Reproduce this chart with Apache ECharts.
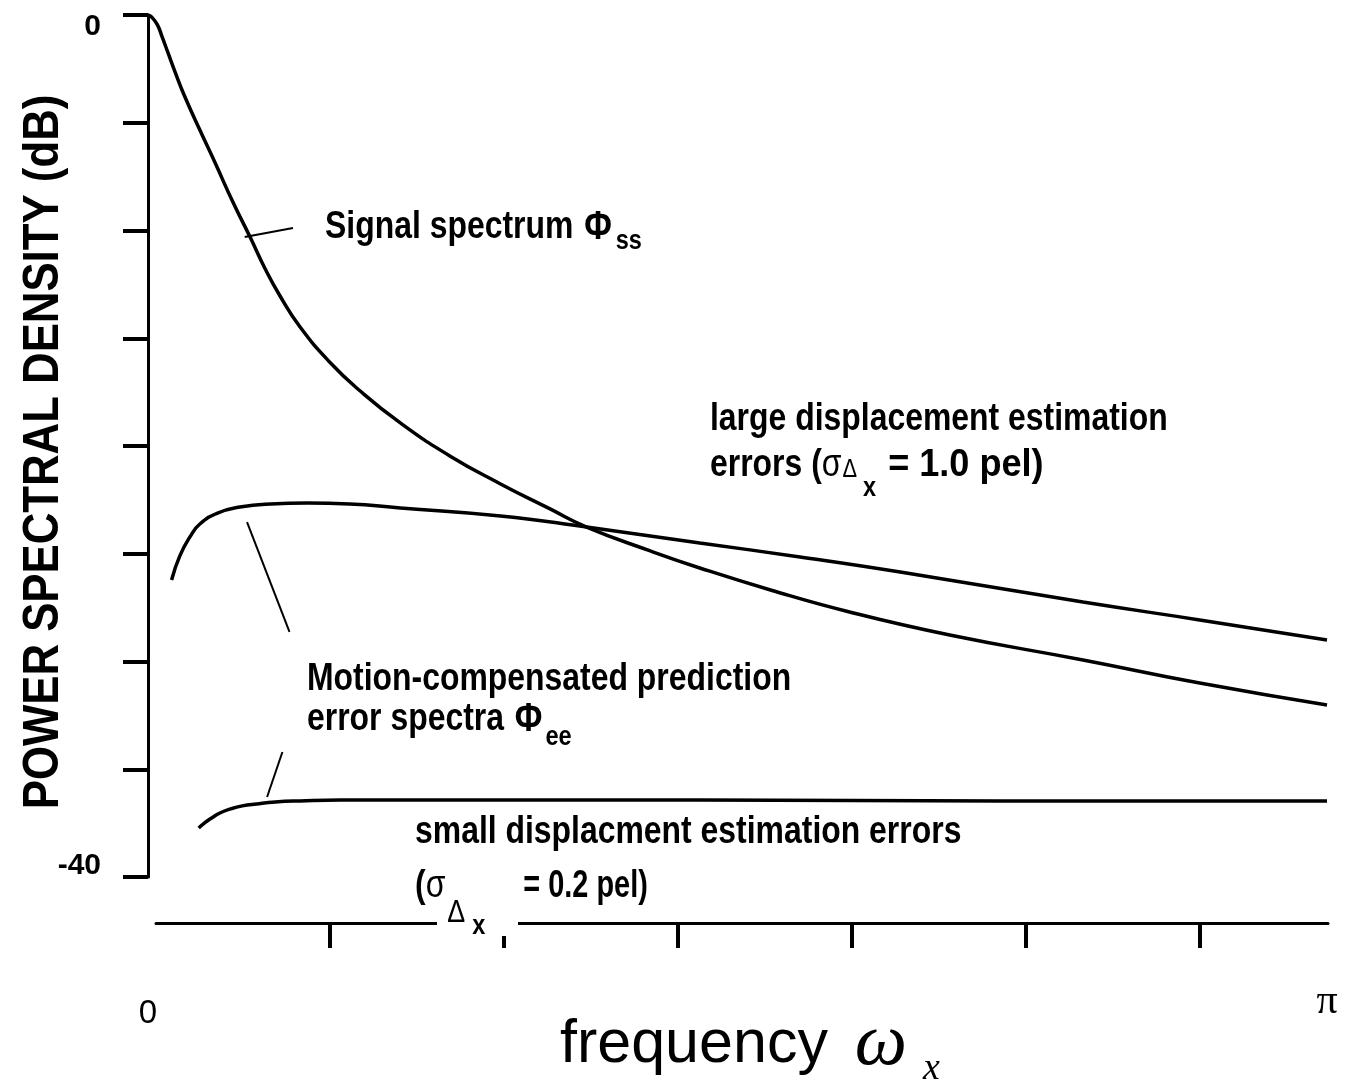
<!DOCTYPE html>
<html>
<head>
<meta charset="utf-8">
<script src="https://cdn.jsdelivr.net/npm/echarts@6/dist/echarts.min.js"></script>
<style>
  html, body { margin: 0; padding: 0; background: #ffffff; }
  #chart { width: 1351px; height: 1081px; }
</style>
</head>
<body>
<div id="chart"></div>
<script>
// Frequency is given as a fraction of pi (omega_x / pi); levels in dB.
const signalFreq = [0, 0.003, 0.008, 0.012, 0.017, 0.023, 0.031, 0.044, 0.057, 0.072, 0.087, 0.099, 0.112, 0.129, 0.154, 0.180, 0.214, 0.256, 0.299, 0.341, 0.372, 0.426, 0.468, 0.528, 0.595, 0.680, 0.793, 0.892, 1.0];
const signalDb = [0, -0.09, -0.46, -1.02, -1.76, -2.65, -3.76, -5.34, -6.87, -8.68, -10.35, -11.74, -13.04, -14.48, -16.10, -17.45, -18.93, -20.46, -21.76, -22.92, -23.76, -24.87, -25.66, -26.68, -27.70, -28.77, -29.93, -31.00, -32.02];

// Prediction error spectrum, large displacement estimation errors (1.0 pel)
const largeErrFreq = [0.020, 0.027, 0.036, 0.044, 0.059, 0.078, 0.104, 0.135, 0.171, 0.214, 0.299, 0.372, 0.468, 0.553, 0.638, 0.793, 0.892, 1.0];
const largeErrDb = [-26.22, -25.10, -24.18, -23.62, -23.11, -22.83, -22.69, -22.65, -22.69, -22.88, -23.25, -23.76, -24.50, -25.15, -25.85, -27.24, -28.07, -29.00];

// Prediction error spectrum, small displacement estimation errors (0.2 pel)
const smallErrFreq = [0.043, 0.048, 0.054, 0.061, 0.070, 0.080, 0.092, 0.108, 0.129, 0.163, 0.256, 0.468, 0.723, 1.0];
const smallErrDb = [-37.73, -37.49, -37.26, -37.03, -36.84, -36.70, -36.61, -36.52, -36.47, -36.43, -36.43, -36.43, -36.47, -36.47];

// Axis labels
const yTickLabels = { '0': '0', '-40': '-40' };
const xTickLabels = { '0': '0', '1': 'π' };
const yAxisTitle = 'POWER SPECTRAL DENSITY (dB)';

// Leader lines from the annotations to the curves, in data units [omega/pi, dB]
const leaderSignal = [[0.082, -10.30], [0.123, -9.88]];
const leaderLarge = [[0.084, -23.53], [0.120, -28.63]];
const leaderSmall = [[0.101, -36.29], [0.114, -34.20]];

const SANS = '"Liberation Sans", Arial, sans-serif';
const SERIF = '"Liberation Serif", "Times New Roman", serif';
const CONDENSE = 0.84;   // horizontal squeeze for the condensed bold lettering

const zip = (xs, ys) => xs.map((x, i) => [x, ys[i]]);

const chart = echarts.init(document.getElementById('chart'), null, { renderer: 'canvas' });

const curveStyle = { color: '#000', width: 3.5 };

chart.setOption({
  animation: false,
  backgroundColor: '#ffffff',
  grid: [
    { left: 148, top: 15, width: 1179, height: 862, containLabel: false, outerBoundsMode: 'none' },
    { left: 156, top: 922, width: 1172, height: 1, containLabel: false, outerBoundsMode: 'none' }
  ],
  xAxis: [
    {
      gridIndex: 0, type: 'value', min: 0, max: 1,
      axisLine: { show: false }, axisTick: { show: false }, splitLine: { show: false },
      axisLabel: {
        customValues: [0, 1],
        margin: 100,
        formatter: v => (v === 0 ? '{z|' + xTickLabels['0'] + '}' : '{p|' + xTickLabels['1'] + '}'),
        rich: {
          z: { fontFamily: SANS, fontSize: 33, color: '#000', padding: [20, 0, 0, 0] },
          p: { fontFamily: SERIF, fontSize: 42, color: '#000', padding: [4, 0, 0, 0] }
        }
      }
    },
    {
      gridIndex: 1, type: 'value', min: 0, max: 6.736, position: 'bottom',
      axisLine: { show: true, lineStyle: { color: '#000', width: 3 } },
      axisTick: { show: true, customValues: [1, 2, 3, 4, 5, 6], length: 25, lineStyle: { color: '#000', width: 4 } },
      axisLabel: { show: false }, splitLine: { show: false }
    }
  ],
  yAxis: [
    {
      gridIndex: 0, type: 'value', min: -40, max: 0, interval: 5,
      axisLine: { show: true, lineStyle: { color: '#000', width: 3 } },
      axisTick: { show: true, inside: false, length: 25, lineStyle: { color: '#000', width: 4 } },
      splitLine: { show: false },
      axisLabel: {
        margin: 47,
        formatter: v => {
          const s = yTickLabels[String(v)];
          if (!s) return '';
          return v === 0 ? '{a|' + s + '}' : '{b|' + s + '}';
        },
        rich: {
          a: { fontFamily: SANS, fontWeight: 'bold', fontSize: 30, color: '#000', padding: [24, 0, 0, 0] },
          b: { fontFamily: SANS, fontWeight: 'bold', fontSize: 30, color: '#000', padding: [0, 0, 22, 0] }
        }
      }
    },
    { gridIndex: 1, type: 'value', show: false }
  ],
  series: [
    { name: 'Signal spectrum', type: 'line', xAxisIndex: 0, yAxisIndex: 0, data: zip(signalFreq, signalDb), showSymbol: false, smooth: 0.5, lineStyle: curveStyle },
    { name: 'Large displacement errors', type: 'line', xAxisIndex: 0, yAxisIndex: 0, data: zip(largeErrFreq, largeErrDb), showSymbol: false, smooth: 0.5, lineStyle: curveStyle },
    { name: 'Small displacement errors', type: 'line', xAxisIndex: 0, yAxisIndex: 0, data: zip(smallErrFreq, smallErrDb), showSymbol: false, smooth: 0.5, lineStyle: curveStyle }
  ]
});

// ---- annotation lettering ----
const measureCtx = document.createElement('canvas').getContext('2d');
function fontOf(p) {
  return (p.style || 'normal') + ' ' + (p.weight || 'bold') + ' ' + p.size + 'px ' + (p.family || SANS);
}

// Lays out a run of text pieces left to right (subscripts are pieces with a dy offset).
function textRun(x, y, pieces, squeeze) {
  const base = squeeze == null ? CONDENSE : squeeze;
  const out = [];
  let cx = x;
  pieces.forEach(p => {
    const size = p.size || 38;
    const k = p.k || base;
    const piece = Object.assign({ size: size }, p);
    out.push({
      type: 'text', x: cx, y: y + (p.dy || 0), z: 100, scaleX: k,
      style: {
        text: p.t, fill: '#000',
        fontFamily: piece.family || SANS,
        fontWeight: piece.weight || 'bold',
        fontStyle: piece.style || 'normal',
        fontSize: size,
        align: 'left', verticalAlign: 'middle'
      }
    });
    measureCtx.font = fontOf(piece);
    cx += measureCtx.measureText(p.t).width * k + (p.gap || 0);
  });
  return out;
}

const toPx = p => chart.convertToPixel({ gridIndex: 0 }, p);
function leader(seg) {
  const a = toPx(seg[0]);
  const b = toPx(seg[1]);
  return {
    type: 'line', z: 100,
    shape: { x1: a[0], y1: a[1], x2: b[0], y2: b[1] },
    style: { stroke: '#000', lineWidth: 2 }
  };
}

const graphics = [
  // clears the axis line where the subscript sits
  { type: 'rect', z: 50, shape: { x: 437, y: 909, width: 81, height: 27 }, style: { fill: '#fff' } },
  leader(leaderSignal),
  leader(leaderLarge),
  leader(leaderSmall),
  // vertical axis title
  {
    type: 'text', x: 44, y: 452, z: 100, rotation: Math.PI / 2, scaleX: 0.875,
    style: { text: yAxisTitle, fill: '#000', fontFamily: SANS, fontWeight: 'bold', fontSize: 50, align: 'center', verticalAlign: 'middle' }
  }
].concat(
  textRun(325, 228, [{ t: 'Signal spectrum ', gap: 2 }, { t: 'Φ', size: 40, gap: 4 }, { t: 'ss', size: 28, dy: 13 }]),
  textRun(710, 420, [{ t: 'large displacement estimation' }]),
  textRun(710, 466, [
    { t: 'errors (' },
    { t: 'σ', weight: 'normal', size: 38, gap: 1 },
    { t: 'Δ', weight: 'normal', size: 26, dy: 4, gap: 6 },
    { t: 'x', size: 28, dy: 22, gap: 12 },
    { t: '= 1.0 pel)', k: 0.95 }
  ]),
  textRun(307, 680, [{ t: 'Motion-compensated prediction' }]),
  textRun(307, 720, [{ t: 'error spectra ', gap: 2 }, { t: 'Φ', size: 40, gap: 3 }, { t: 'ee', size: 28, dy: 17 }]),
  textRun(415, 833, [{ t: 'small displacment estimation errors' }]),
  textRun(415, 887, [
    { t: '(' },
    { t: 'σ', weight: 'normal', size: 38, gap: 2 },
    { t: 'Δ', weight: 'normal', size: 32, dy: 26, gap: 7 },
    { t: 'x', size: 28, dy: 39, gap: 38 },
    { t: '= 0.2 pel)', k: 0.76 }
  ]),
  textRun(560, 1045, [
    { t: 'frequency ', weight: 'normal', size: 61, gap: 10 },
    { t: 'ω', family: SERIF, weight: 'normal', style: 'italic', size: 74, gap: 16 },
    { t: 'x', family: SERIF, weight: 'normal', style: 'italic', size: 38, dy: 24 }
  ], 1)
);

chart.setOption({ graphic: graphics });
</script>
</body>
</html>
